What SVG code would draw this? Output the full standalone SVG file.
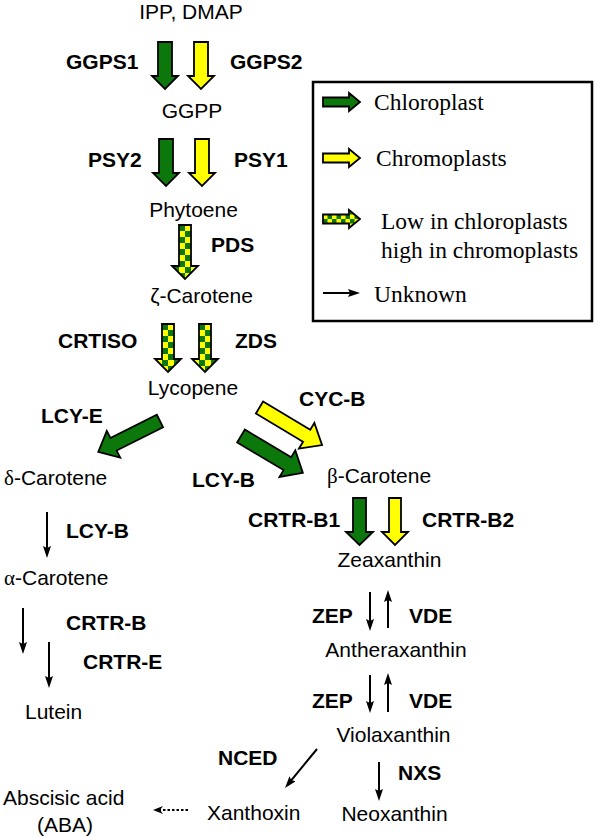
<svg xmlns="http://www.w3.org/2000/svg" width="598" height="837" viewBox="0 0 598 837">
<style>
.t{font-family:"Liberation Sans",Arial,sans-serif;font-size:21px;fill:#000}
.b{font-family:"Liberation Sans",Arial,sans-serif;font-size:21px;font-weight:bold;fill:#000}
.g{font-family:"Liberation Serif","Times New Roman",serif}
.lg{font-family:"Liberation Serif","Times New Roman",serif;font-size:23.5px;fill:#000}
.green{fill:#0c780c;stroke:#000;stroke-width:1.8;stroke-linejoin:miter}
.yellow{fill:#ffff00;stroke:#000;stroke-width:1.8}
.chk{fill:url(#checker);stroke:#000;stroke-width:1.8}
.chks{fill:url(#checkerS);stroke:#000;stroke-width:1.8}
.thin{stroke:#000;stroke-width:2;fill:none}
</style>
<defs>
<pattern id="checker" patternUnits="userSpaceOnUse" x="0" y="0" width="12" height="12">
<rect width="12" height="12" fill="#ffff00"/>
<rect x="6" y="0" width="6" height="6" fill="#0c780c"/>
<rect x="0" y="6" width="6" height="6" fill="#0c780c"/>
</pattern>
<pattern id="checkerS" patternUnits="userSpaceOnUse" x="0" y="0" width="9" height="9">
<rect width="9" height="9" fill="#ffff00"/>
<rect x="0" y="0" width="4.5" height="4.5" fill="#0c780c"/>
<rect x="4.5" y="4.5" width="4.5" height="4.5" fill="#0c780c"/>
</pattern>
<marker id="ah" markerUnits="userSpaceOnUse" markerWidth="14" markerHeight="10" refX="8" refY="4" orient="auto">
<path d="M0,0 L12,4 L0,8 L2,4 Z" fill="#000"/>
</marker>
<marker id="ahs" markerUnits="userSpaceOnUse" markerWidth="12" markerHeight="10" refX="6" refY="4" orient="auto">
<path d="M0,0 L10,4 L0,8 L3,4 Z" fill="#000"/>
</marker>
</defs>
<rect width="598" height="837" fill="#fff"/>

<g id="legend">
<rect x="313" y="82" width="279" height="239" fill="#fff" stroke="#000" stroke-width="2.5"/>
<polygon class="green" points="323,97.5 349,97.5 349,93 360,102 349,111 349,106.5 323,106.5"/>
<text class="lg" x="374" y="110">Chloroplast</text>
<polygon class="yellow" points="323,153.5 349,153.5 349,149 360,158 349,167 349,162.5 323,162.5"/>
<text class="lg" x="376" y="166">Chromoplasts</text>
<g transform="translate(323,219)">
<polygon class="chks" points="0,-4.5 26,-4.5 26,-9 37,0 26,9 26,4.5 0,4.5"/>
</g>
<text class="lg" x="381" y="229">Low in chloroplasts</text>
<text class="lg" x="381" y="258">high in chromoplasts</text>
<line class="thin" x1="323" y1="293" x2="356" y2="293" marker-end="url(#ah)"/>
<text class="lg" x="374" y="302">Unknown</text>
</g>

<g id="connectors">
<polygon class="green" points="158,42 172,42 172,76 178,76 165,89 152,76 158,76"/>
<polygon class="yellow" points="194,42 208,42 208,76 214,76 201,89 188,76 194,76"/>
<polygon class="green" points="159,139 173,139 173,173 179,173 166,186 153,173 159,173"/>
<polygon class="yellow" points="195,139 209,139 209,173 215,173 202,186 189,173 195,173"/>
<g transform="translate(185,225)">
<polygon class="chk" points="-6,0 6,0 6,41 13,41 0,54 -13,41 -6,41" transform="translate(0,0)"/>
</g>
<g transform="translate(168,324)">
<polygon class="chk" points="-6,0 6,0 6,35 13,35 0,48 -13,35 -6,35"/>
</g>
<g transform="translate(205,324)">
<polygon class="chk" points="-6,0 6,0 6,35 13,35 0,48 -13,35 -6,35"/>
</g>
<!-- LCY-E -->
<g transform="translate(160,421) rotate(153.4)">
<polygon class="green" points="0,-7 52,-7 52,-15 69,0 52,15 52,7 0,7"/>
</g>
<!-- CYC-B -->
<g transform="translate(259.5,407.5) rotate(31)">
<polygon class="yellow" points="0,-7 55,-7 55,-15 73,0 55,15 55,7 0,7"/>
</g>
<!-- LCY-B -->
<g transform="translate(241,436) rotate(30.8)">
<polygon class="green" points="0,-7.5 54,-7.5 54,-15.5 72,0 54,15.5 54,7.5 0,7.5"/>
</g>
<polygon class="green" points="353,498 366,498 366,532 373,532 359.5,545 346,532 353,532"/>
<polygon class="yellow" points="389,498 401,498 401,532 408,532 395,545 382,532 389,532"/>
<line class="thin" x1="47" y1="512" x2="47" y2="554" marker-end="url(#ah)"/>
<line class="thin" x1="23" y1="608" x2="23" y2="650" marker-end="url(#ah)"/>
<line class="thin" x1="49" y1="642" x2="49" y2="684" marker-end="url(#ah)"/>
<line class="thin" x1="370" y1="592" x2="370" y2="627" marker-end="url(#ah)"/>
<line class="thin" x1="388" y1="628" x2="388" y2="594" marker-end="url(#ah)"/>
<line class="thin" x1="370" y1="675" x2="370" y2="709" marker-end="url(#ah)"/>
<line class="thin" x1="388" y1="712" x2="388" y2="677" marker-end="url(#ah)"/>
<line class="thin" x1="379" y1="762" x2="379" y2="797" marker-end="url(#ah)"/>
<line class="thin" x1="317" y1="749" x2="287.5" y2="784.9" marker-end="url(#ah)"/>
<line class="thin" x1="188" y1="810" x2="157" y2="810" stroke-dasharray="2.5,2" marker-end="url(#ahs)"/>
</g>

<g id="n-ipp"><text class="t" x="191" y="19" text-anchor="middle">IPP, DMAP</text></g>
<g id="l-ggps1"><text class="b" x="66" y="69">GGPS1</text></g>
<g id="l-ggps2"><text class="b" x="230" y="69">GGPS2</text></g>
<g id="n-ggpp"><text class="t" x="192" y="118" text-anchor="middle">GGPP</text></g>
<g id="l-psy2"><text class="b" x="88" y="167">PSY2</text></g>
<g id="l-psy1"><text class="b" x="234" y="167">PSY1</text></g>
<g id="n-phytoene"><text class="t" x="193.5" y="217" text-anchor="middle">Phytoene</text></g>
<g id="l-pds"><text class="b" x="211" y="252">PDS</text></g>
<g id="n-zcar"><text class="t" x="201.5" y="303" text-anchor="middle">ζ-Carotene</text></g>
<g id="l-crtiso"><text class="b" x="58" y="348">CRTISO</text></g>
<g id="l-zds"><text class="b" x="235" y="348">ZDS</text></g>
<g id="n-lycopene"><text class="t" x="193" y="395" text-anchor="middle">Lycopene</text></g>
<g id="l-lcye"><text class="b" x="41" y="423">LCY-E</text></g>
<g id="l-cycb"><text class="b" x="299" y="406">CYC-B</text></g>
<g id="n-dcar"><text class="t" x="4" y="485"><tspan class="g">δ</tspan>-Carotene</text></g>
<g id="l-lcyb1"><text class="b" x="192" y="487">LCY-B</text></g>
<g id="n-bcar"><text class="t" x="327" y="483"><tspan class="g">β</tspan>-Carotene</text></g>
<g id="l-lcyb2"><text class="b" x="66" y="538">LCY-B</text></g>
<g id="l-crtrb1"><text class="b" x="248" y="527">CRTR-B1</text></g>
<g id="l-crtrb2"><text class="b" x="422" y="527">CRTR-B2</text></g>
<g id="n-acar"><text class="t" x="4" y="585"><tspan class="g">α</tspan>-Carotene</text></g>
<g id="n-zea"><text class="t" x="389.5" y="567" text-anchor="middle">Zeaxanthin</text></g>
<g id="l-crtrb"><text class="b" x="66" y="630">CRTR-B</text></g>
<g id="l-crtre"><text class="b" x="83" y="669">CRTR-E</text></g>
<g id="l-zep1"><text class="b" x="312" y="623">ZEP</text></g>
<g id="l-vde1"><text class="b" x="409" y="623">VDE</text></g>
<g id="n-anth"><text class="t" x="396" y="657" text-anchor="middle">Antheraxanthin</text></g>
<g id="l-zep2"><text class="b" x="312" y="708">ZEP</text></g>
<g id="l-vde2"><text class="b" x="409" y="708">VDE</text></g>
<g id="n-viola"><text class="t" x="393.5" y="742" text-anchor="middle">Violaxanthin</text></g>
<g id="n-lutein"><text class="t" x="25" y="719">Lutein</text></g>
<g id="l-nced"><text class="b" x="218" y="765">NCED</text></g>
<g id="l-nxs"><text class="b" x="398" y="780">NXS</text></g>
<g id="n-aba"><text class="t" x="3" y="805">Abscisic acid</text><text class="t" x="65" y="832" text-anchor="middle">(ABA)</text></g>
<g id="n-xanthoxin"><text class="t" x="207" y="820">Xanthoxin</text></g>
<g id="n-neo"><text class="t" x="394.5" y="821" text-anchor="middle">Neoxanthin</text></g>
</svg>
